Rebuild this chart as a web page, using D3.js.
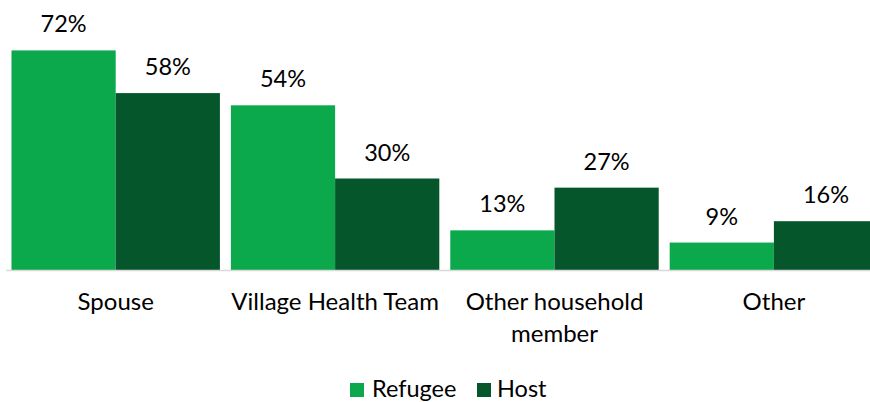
<!DOCTYPE html>
<html>
<head>
<meta charset="utf-8">
<script src="https://cdn.jsdelivr.net/npm/d3@7"></script>
<style>
  html, body { margin: 0; padding: 0; background: #fff; overflow: hidden; }
  svg { display: block; font-family: "Lato", "Open Sans", sans-serif; }
</style>
</head>
<body>
<svg id="chart" width="870" height="402"></svg>
<script>
// Who the respondent turns to, by group
const categories = ["Spouse", "Village Health Team", "Other household member", "Other"];
const seriesNames = ["Refugee", "Host"];
const refugeeValues = [72, 54, 13, 9];
const hostValues = [58, 30, 27, 16];
const seriesColors = ["#0ca84c", "#05562b"];

const svg = d3.select("#chart");
const baseline = 270;

const x = d3.scaleBand()
  .domain(categories)
  .range([6, 883.6])
  .paddingInner(0.05)
  .paddingOuter(0.025);

const xInner = d3.scaleBand()
  .domain(seriesNames)
  .range([0, x.bandwidth()])
  .padding(0);

const y = d3.scaleLinear()
  .domain([0, 80])
  .range([baseline, baseline - 80 * 3.05]);

const rows = categories.map((c, i) => ({
  category: c,
  values: [
    { series: "Refugee", value: refugeeValues[i] },
    { series: "Host", value: hostValues[i] }
  ]
}));

const color = d3.scaleOrdinal().domain(seriesNames).range(seriesColors);

const groups = svg.append("g")
  .selectAll("g")
  .data(rows)
  .join("g")
  .attr("transform", d => `translate(${x(d.category)},0)`);

groups.selectAll("rect")
  .data(d => d.values)
  .join("rect")
  .attr("x", d => xInner(d.series))
  .attr("y", d => y(d.value))
  .attr("width", xInner.bandwidth())
  .attr("height", d => y(0) - y(d.value))
  .attr("fill", d => color(d.series));

groups.selectAll("text.value")
  .data(d => d.values)
  .join("text")
  .attr("class", "value")
  .attr("x", d => xInner(d.series) + xInner.bandwidth() / 2)
  .attr("y", d => y(d.value) - 18)
  .attr("text-anchor", "middle")
  .attr("font-size", 23.5)
  .attr("fill", "#000")
  .text(d => d.value + "%");

// category axis line
svg.append("line")
  .attr("x1", 6).attr("x2", 883.6)
  .attr("y1", baseline + 0.5).attr("y2", baseline + 0.5)
  .attr("stroke", "#d9d9d9")
  .attr("stroke-width", 1.5);

// category labels, wrapped to the band step
const xAxis = d3.axisBottom(x).tickSize(0).tickPadding(0);
const axisG = svg.append("g")
  .attr("transform", `translate(0,${baseline})`)
  .call(xAxis);
axisG.select(".domain").remove();
axisG.selectAll("text")
  .attr("font-size", 24)
  .attr("fill", "#000")
  .attr("dy", null)
  .attr("y", 40)
  .each(function(d) {
    const t = d3.select(this);
    const words = d.split(" ");
    const maxW = x.step();
    t.text(null);
    let line = [];
    let lineNo = 0;
    let tspan = t.append("tspan").attr("x", 0).attr("y", 40);
    words.forEach(w => {
      line.push(w);
      tspan.text(line.join(" "));
      if (tspan.node().getComputedTextLength() > maxW && line.length > 1) {
        line.pop();
        tspan.text(line.join(" "));
        line = [w];
        lineNo++;
        tspan = t.append("tspan").attr("x", 0).attr("y", 40 + lineNo * 32).text(w);
      }
    });
  });
axisG.attr("font-family", null).attr("font-size", null);

// legend
const legendItems = [
  { name: seriesNames[0], sx: 350, tx: 372 },
  { name: seriesNames[1], sx: 477, tx: 497 }
];
const legend = svg.append("g");
legend.selectAll("rect")
  .data(legendItems)
  .join("rect")
  .attr("x", d => d.sx)
  .attr("y", 383)
  .attr("width", 14)
  .attr("height", 14)
  .attr("fill", d => color(d.name));
legend.selectAll("text")
  .data(legendItems)
  .join("text")
  .attr("x", d => d.tx)
  .attr("y", 397)
  .attr("font-size", 23.5)
  .attr("fill", "#000")
  .text(d => d.name);
</script>
</body>
</html>
